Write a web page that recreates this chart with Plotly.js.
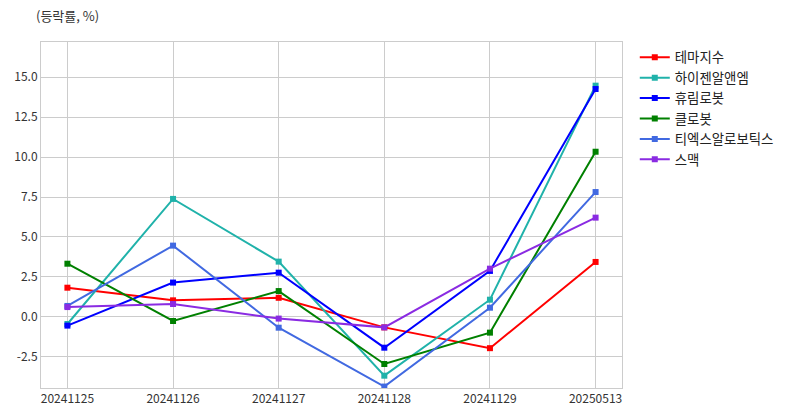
<!DOCTYPE html>
<html>
<head>
<meta charset="utf-8">
<script src="https://cdn.plot.ly/plotly-3.0.1.min.js"></script>
<style>html,body{margin:0;padding:0;background:#fff;}#chart{width:799px;height:416px;}</style>
</head>
<body>
<div id="chart"></div>
<script>
const dates = ["20241125", "20241126", "20241127", "20241128", "20241129", "20250513"];
const seriesNames = ["테마지수", "하이젠알앤엠", "휴림로봇", "클로봇", "티엑스알로보틱스", "스맥"];
const themeIndex = [1.83, 1.04, 1.2, -0.65, -1.95, 3.44];
const hygen = [-0.44, 7.38, 3.46, -3.67, 1.08, 14.46];
const hurim = [-0.54, 2.15, 2.77, -1.92, 2.88, 14.25];
const clobot = [3.33, -0.25, 1.62, -2.94, -0.98, 10.33];
const txr = [0.69, 4.46, -0.67, -4.35, 0.58, 7.81];
const smec = [0.62, 0.81, -0.1, -0.65, 3.02, 6.21];
const colors = ["#ff0000", "#20b2aa", "#0000ff", "#008000", "#4169e1", "#8a2be2"];
const allSeries = [themeIndex, hygen, hurim, clobot, txr, smec];

const traces = allSeries.map((vals, i) => ({
  type: "scatter",
  mode: "lines+markers",
  name: seriesNames[i],
  x: dates.map((d, j) => j),
  y: vals,
  line: {color: colors[i], width: 2},
  marker: {color: colors[i], symbol: "square", size: 6}
}));

const font = "'Noto Sans CJK KR', 'Noto Sans', sans-serif";
const layout = {
  width: 799, height: 416,
  margin: {l: 41, r: 177, t: 42, b: 28},
  paper_bgcolor: "#ffffff",
  plot_bgcolor: "#ffffff",
  font: {family: font, size: 12, color: "#333333"},
  showlegend: true,
  legend: {
    x: 1.022, y: 1.0, xanchor: "left", yanchor: "top",
    font: {family: font, size: 13.4, color: "#222222"},
    bgcolor: "rgba(0,0,0,0)", tracegroupgap: 0
  },
  xaxis: {
    range: [-0.25, 5.25],
    tickmode: "array", tickvals: dates.map((d, j) => j), ticktext: dates,
    showgrid: true, gridcolor: "#cccccc", gridwidth: 1,
    zeroline: false, showline: true, linecolor: "#cccccc", linewidth: 1, mirror: true,
    ticks: "", tickfont: {size: 12, color: "#333333"}
  },
  yaxis: {
    range: [-4.44, 17.19],
    tickmode: "array",
    tickvals: [-2.5, 0, 2.5, 5, 7.5, 10, 12.5, 15],
    ticktext: ["-2.5", "0.0", "2.5", "5.0", "7.5", "10.0", "12.5", "15.0"],
    showgrid: true, gridcolor: "#cccccc", gridwidth: 1,
    zeroline: false, showline: true, linecolor: "#cccccc", linewidth: 1, mirror: true,
    ticks: "", tickfont: {size: 12, color: "#333333"}
  },
  annotations: [{
    text: "(등락률, %)", xref: "paper", yref: "paper",
    x: -0.012, y: 1.0, yshift: 27, xanchor: "left", yanchor: "middle",
    showarrow: false, font: {family: font, size: 13, color: "#333333"}
  }]
};

Plotly.newPlot("chart", traces, layout, {displayModeBar: false, staticPlot: true});
</script>
</body>
</html>
